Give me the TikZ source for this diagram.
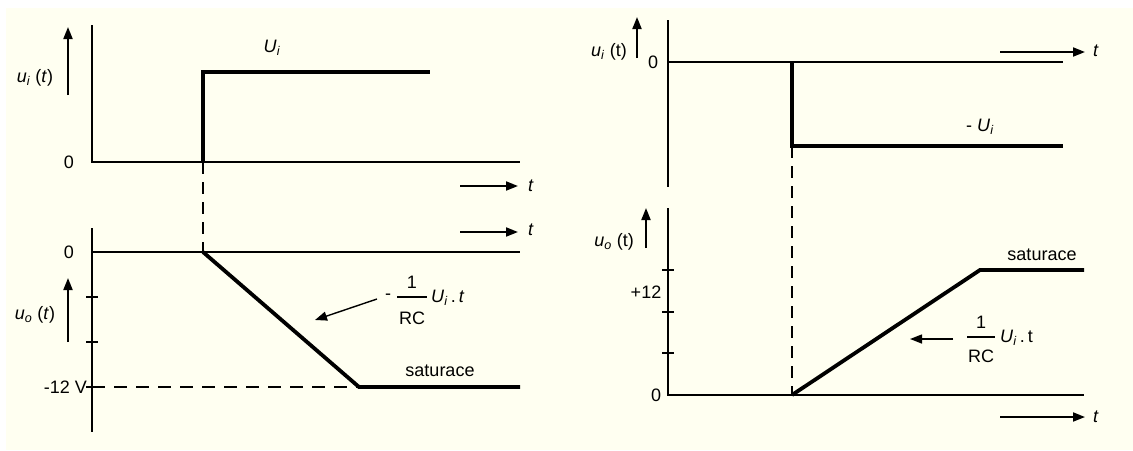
\documentclass[tikz,border=0pt]{standalone}
\usepackage{fontspec}
\setmainfont{Liberation Sans}
\usetikzlibrary{arrows.meta}
\definecolor{cream}{RGB}{255,255,241}
\newcommand\mysub[1]{\textsubscript{\textit{#1}}}
\begin{document}
\begin{tikzpicture}[x=1pt,y=-1pt,
  axis/.style={line width=1.6pt},
  sig/.style={line width=3.8pt, line join=miter},
  dashv/.style={line width=2.2pt, dash pattern=on 12pt off 8pt},
  dashh/.style={line width=1.2pt, dash pattern=on 13pt off 9pt},
  arr/.style={line width=1.8pt, -{Triangle[length=12pt,width=9pt]}},
  lbl/.style={font=\fontsize{18}{21}\selectfont, inner sep=0pt},
  tick/.style={line width=1.3pt}]
\useasboundingbox (0,0) rectangle (1133,450);
\fill[white] (0,0) rectangle (1133,450);
\fill[cream] (6,8) rectangle (1133,450);

% ===== left top =====
\coordinate (L1top) at (92,25);
\coordinate (L1o) at (92,162);
\coordinate (L1end) at (520,162);
\draw[axis] (L1top) -- (L1o) -- (L1end);
\node[lbl] (L1zero) at (69,162) {0};
\node[lbl] (L1lab) at (35,78) {\textit{u}\mysub{i} (\textit{t})};
\coordinate (L1ab) at (68,95); \coordinate (L1at) at (68,27);
\draw[arr] (L1ab) -- (L1at);
\coordinate (L1s0) at (203,162); \coordinate (L1s1) at (203,72); \coordinate (L1s2) at (430,72);
\draw[sig] (L1s0) -- (L1s1) -- (L1s2);
\node[lbl] (L1Ui) at (272,48) {\textit{U}\mysub{i}};
\coordinate (L1ta) at (460,186); \coordinate (L1tb) at (518,186);
\draw[arr] (L1ta) -- (L1tb);
\node[lbl] (L1t) at (531,186) {\textit{t}};

% ===== left bottom =====
\coordinate (L2top) at (92,228);
\coordinate (L2bot) at (92,432);
\coordinate (L2z0) at (92,252); \coordinate (L2z1) at (520,252);
\draw[axis] (L2top) -- (L2bot);
\draw[axis] (L2z0) -- (L2z1);
\foreach \yy in {297,342,387} \draw[tick] (86,\yy) -- (98,\yy);
\node[lbl] (L2zero) at (69,252) {0};
\node[lbl,anchor=east] (L2m12) at (87,387) {-12 V};
\node[lbl] (L2lab) at (35,315) {\textit{u}\mysub{o} (\textit{t})};
\coordinate (L2ab) at (68,342); \coordinate (L2at) at (68,278);
\draw[arr] (L2ab) -- (L2at);
\coordinate (L2ta) at (460,232); \coordinate (L2tb) at (518,232);
\draw[arr] (L2ta) -- (L2tb);
\node[lbl] (L2t) at (531,230) {\textit{t}};
\draw[dashv] (L1s0) -- (203,252) coordinate (L2r0);
\coordinate (L2r1) at (359,387); \coordinate (L2r2) at (520,387);
\draw[dashh] (92,387) -- (L2r1);
\draw[sig] (L2r0) -- (L2r1) -- (L2r2);
\node[lbl] (L2sat) at (440,371) {saturace};
\node[lbl] (L2minus) at (388,297) {-};
\node[lbl] (L2one) at (412,282) {1};
\draw[line width=1.1pt] (397,297) -- (427,297);
\node[lbl] (L2rc) at (412,318) {RC};
\node[lbl,anchor=west] (L2Ui) at (431,298) {\textit{U}\mysub{i}\,.\,\textit{t}};
\coordinate (L2aa) at (377,299); \coordinate (L2ab2) at (315,320);
\draw[arr,line width=1.4pt] (L2aa) -- (L2ab2);

% ===== right top =====
\coordinate (R1top) at (668,20);
\coordinate (R1bot) at (668,187);
\coordinate (R1z0) at (668,62); \coordinate (R1z1) at (1063,62);
\draw[axis] (R1top) -- (R1bot);
\draw[axis] (R1z0) -- (R1z1);
\node[lbl] (R1zero) at (653,62) {0};
\node[lbl] (R1lab) at (609,52) {\textit{u}\mysub{i} (t)};
\coordinate (R1ab) at (637,58); \coordinate (R1at) at (637,17);
\draw[arr] (R1ab) -- (R1at);
\coordinate (R1ta) at (1000,52); \coordinate (R1tb) at (1085,52);
\draw[arr] (R1ta) -- (R1tb);
\node[lbl] (R1t) at (1096,51) {\textit{t}};
\coordinate (R1s0) at (792,62); \coordinate (R1s1) at (792,146); \coordinate (R1s2) at (1063,146);
\draw[sig] (R1s0) -- (R1s1) -- (R1s2);
\node[lbl] (R1Ui) at (980,127) {- \textit{U}\mysub{i}};

% ===== right bottom =====
\coordinate (R2top) at (668,208);
\coordinate (R2o) at (668,395);
\coordinate (R2end) at (1084,395);
\draw[axis] (R2top) -- (R2o) -- (R2end);
\foreach \yy in {270,312,353} \draw[tick] (662,\yy) -- (674,\yy);
\node[lbl] (R2zero) at (656,395) {0};
\node[lbl] (R2p12) at (646,292) {+12};
\node[lbl] (R2lab) at (614,242) {\textit{u}\mysub{o} (t)};
\coordinate (R2ab) at (646,248); \coordinate (R2at) at (646,208);
\draw[arr] (R2ab) -- (R2at);
\coordinate (R2ta) at (1000,417); \coordinate (R2tb) at (1085,417);
\draw[arr] (R2ta) -- (R2tb);
\node[lbl] (R2t) at (1096,417) {\textit{t}};
\draw[dashv] (R1s1) -- (792,395) coordinate (R2r0);
\coordinate (R2r1) at (980,270); \coordinate (R2r2) at (1084,270);
\draw[sig] (R2r0) -- (R2r1) -- (R2r2);
\node[lbl] (R2sat) at (1042,255) {saturace};
\node[lbl] (R2one) at (981,322) {1};
\draw[line width=1.1pt] (967,337) -- (995,337);
\node[lbl] (R2rc) at (981,356) {RC};
\node[lbl,anchor=west] (R2Ui) at (1000,338) {\textit{U}\mysub{i}\,.\,t};
\coordinate (R2aa) at (953,339); \coordinate (R2ab2) at (910,339);
\draw[arr,line width=1.4pt] (R2aa) -- (R2ab2);
\end{tikzpicture}
\end{document}
